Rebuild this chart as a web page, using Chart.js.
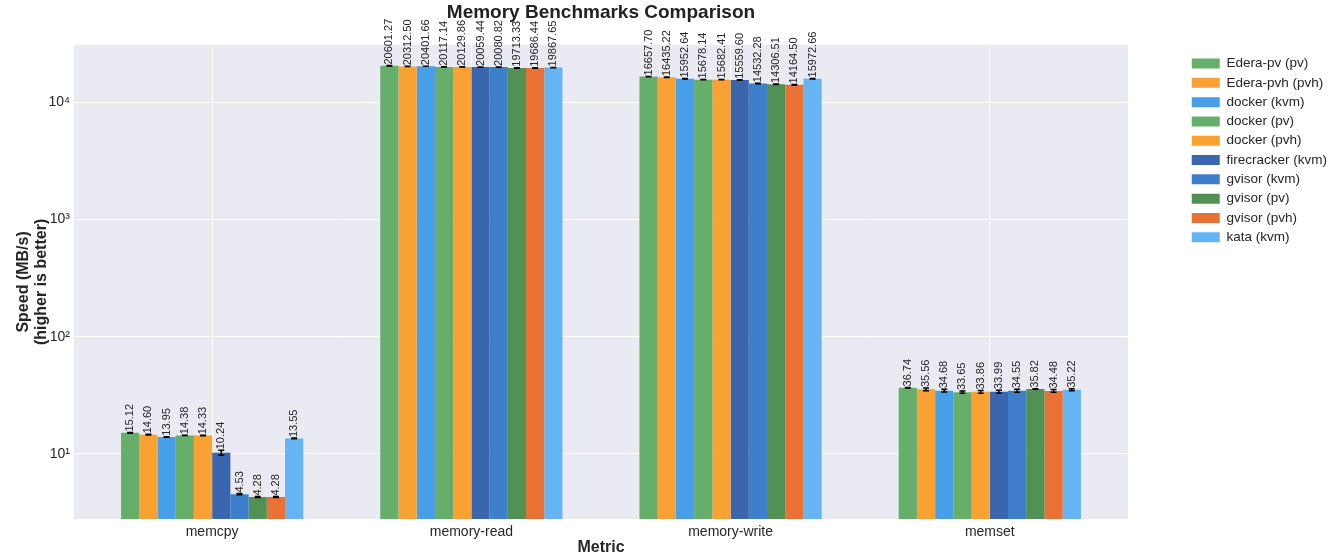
<!DOCTYPE html>
<html>
<head>
<meta charset="utf-8">
<title>Memory Benchmarks Comparison</title>
<script src="https://cdn.jsdelivr.net/npm/chart.js@4.4.1/dist/chart.umd.min.js"></script>
<style>
    html, body { margin: 0; padding: 0; background: #ffffff; }
    #wrap { width: 1340px; height: 558px; position: relative; }
</style>
</head>
<body>
<div id="wrap"><canvas id="mem-chart"></canvas></div>
<script>
// ========================================
// Datos del gráfico
// ========================================

const metrics = ['memcpy', 'memory-read', 'memory-write', 'memset'];

const seriesNames = [
    'Edera-pv (pv)', 'Edera-pvh (pvh)', 'docker (kvm)', 'docker (pv)', 'docker (pvh)',
    'firecracker (kvm)', 'gvisor (kvm)', 'gvisor (pv)', 'gvisor (pvh)', 'kata (kvm)'
];

// valores por serie: memcpy, memory-read, memory-write, memset
const ederaPv     = [15.12, 20601.27, 16657.70, 36.74];
const ederaPvh    = [14.60, 20312.50, 16435.22, 35.56];
const dockerKvm   = [13.95, 20401.66, 15952.64, 34.68];
const dockerPv    = [14.38, 20117.14, 15678.14, 33.65];
const dockerPvh   = [14.33, 20129.86, 15682.41, 33.86];
const firecracker = [10.24, 20059.44, 15559.60, 33.99];
const gvisorKvm   = [4.53, 20080.82, 14532.28, 34.55];
const gvisorPv    = [4.28, 19713.33, 14306.51, 35.82];
const gvisorPvh   = [4.28, 19686.44, 14164.50, 34.48];
const kataKvm     = [13.55, 19867.65, 15972.66, 35.22];

// desviación (barras de error), estimada del gráfico
const errEderaPv     = [0.10, 60, 50, 0.20];
const errEderaPvh    = [0.08, 50, 60, 0.90];
const errDockerKvm   = [0.08, 40, 80, 0.90];
const errDockerPv    = [0.06, 40, 60, 0.70];
const errDockerPvh   = [0.06, 40, 50, 0.90];
const errFirecracker = [0.50, 50, 60, 1.00];
const errGvisorKvm   = [0.05, 40, 80, 1.00];
const errGvisorPv    = [0.04, 120, 60, 0.20];
const errGvisorPvh   = [0.04, 100, 120, 0.90];
const errKataKvm     = [0.10, 60, 70, 0.70];

const yTickValues = [10, 100, 1000, 10000];
const yTickLabels = ['10¹', '10²', '10³', '10⁴'];

const seriesValues = [ederaPv, ederaPvh, dockerKvm, dockerPv, dockerPvh,
    firecracker, gvisorKvm, gvisorPv, gvisorPvh, kataKvm];
const seriesErrors = [errEderaPv, errEderaPvh, errDockerKvm, errDockerPv, errDockerPvh,
    errFirecracker, errGvisorKvm, errGvisorPv, errGvisorPvh, errKataKvm];

// Colores
const seriesColors = [
    '#66AF6A', '#F9A233', '#469FE8', '#66AF6A', '#F9A233',
    '#3A66AE', '#3E7FCB', '#519254', '#E97133', '#65B5F5'
];

const textColor = '#262626';
const fontFamily = "'Liberation Sans', Arial, sans-serif";

Chart.defaults.font.family = fontFamily;
Chart.defaults.color = textColor;

// fondo gris del área de trazado
const plotBackground = {
    id: 'plotBackground',
    beforeDraw(chart) {
        const { ctx, chartArea: a } = chart;
        ctx.save();
        ctx.fillStyle = '#EAEAF2';
        ctx.fillRect(a.left, a.top, a.right - a.left, a.bottom - a.top);
        ctx.restore();
    }
};

// barras de error + etiquetas verticales
const errorBarsAndLabels = {
    id: 'errorBarsAndLabels',
    afterDatasetsDraw(chart) {
        const { ctx } = chart;
        const yScale = chart.scales.y;
        chart.data.datasets.forEach((ds, di) => {
            const meta = chart.getDatasetMeta(di);
            meta.data.forEach((bar, i) => {
                const v = seriesValues[di][i];
                const e = seriesErrors[di][i];
                const yHi = yScale.getPixelForValue(v + e);
                const yLo = yScale.getPixelForValue(v - e);
                ctx.save();
                ctx.strokeStyle = '#000000';
                ctx.lineWidth = 1.5;
                ctx.beginPath();
                ctx.moveTo(bar.x, yLo);
                ctx.lineTo(bar.x, yHi);
                ctx.moveTo(bar.x - 3, yHi);
                ctx.lineTo(bar.x + 3, yHi);
                ctx.moveTo(bar.x - 3, yLo);
                ctx.lineTo(bar.x + 3, yLo);
                ctx.stroke();

                ctx.translate(bar.x, yHi - 1);
                ctx.rotate(-Math.PI / 2);
                ctx.fillStyle = textColor;
                ctx.font = '11px ' + fontFamily;
                ctx.textAlign = 'left';
                ctx.textBaseline = 'middle';
                ctx.fillText(v.toFixed(2), 0, 0);
                ctx.restore();
            });
        });
    }
};

const datasets = seriesNames.map((name, i) => ({
    label: name,
    data: seriesValues[i].map((v, j) => ({ x: j, y: v })),
    backgroundColor: seriesColors[i],
    borderWidth: 0,
    categoryPercentage: 0.703,
    barPercentage: 1.0
}));

new Chart(document.getElementById('mem-chart'), {
    type: 'bar',
    data: { datasets: datasets },
    plugins: [plotBackground, errorBarsAndLabels],
    options: {
        responsive: true,
        maintainAspectRatio: false,
        animation: false,
        layout: { padding: { left: 0, right: 3, top: 0, bottom: 0 } },
        scales: {
            x: {
                type: 'linear',
                min: -0.533,
                max: 3.533,
                offset: false,
                grid: { color: '#FFFFFF', lineWidth: 1, offset: false, drawTicks: false },
                border: { display: false },
                afterBuildTicks(scale) {
                    scale.ticks = metrics.map((m, j) => ({ value: j }));
                },
                ticks: {
                    color: textColor,
                    font: { size: 14 },
                    padding: 5,
                    callback: function(value) {
                        return metrics[value] !== undefined ? metrics[value] : '';
                    }
                },
                title: {
                    display: true,
                    text: 'Metric',
                    color: textColor,
                    font: { size: 16, weight: 'bold' },
                    padding: { top: 0, bottom: 1 }
                },
                afterFit(scale) { scale.height = 39; }
            },
            y: {
                type: 'logarithmic',
                min: 2.78,
                max: 31100,
                grid: { color: '#FFFFFF', lineWidth: 1, drawTicks: false },
                border: { display: false },
                afterBuildTicks(scale) {
                    scale.ticks = yTickValues.map(v => ({ value: v, major: true }));
                },
                ticks: {
                    color: textColor,
                    font: { size: 14 },
                    padding: 4,
                    callback: function(value) {
                        const idx = yTickValues.indexOf(value);
                        return idx >= 0 ? yTickLabels[idx] : '';
                    }
                },
                title: {
                    display: true,
                    text: ['Speed (MB/s)', '(higher is better)'],
                    color: textColor,
                    font: { size: 16, weight: 'bold', lineHeight: 1.15 },
                    padding: { top: 14, bottom: 0 }
                },
                afterFit(scale) { scale.width = 74; }
            },
            gap: {
                type: 'linear',
                position: 'right',
                display: true,
                grid: { display: false },
                border: { display: false },
                ticks: { display: false },
                afterFit(scale) { scale.width = 58; }
            }
        },
        plugins: {
            title: {
                display: true,
                text: 'Memory Benchmarks Comparison',
                color: '#222222',
                fullSize: false,
                font: { size: 19, weight: 'bold' },
                padding: { top: 1, bottom: 21 }
            },
            legend: {
                position: 'right',
                align: 'start',
                fullSize: false,
                title: { display: true, text: ' ', font: { size: 1 }, padding: { top: 0, bottom: 5 } },
                labels: {
                    boxWidth: 28,
                    boxHeight: 10,
                    padding: 5.8,
                    color: textColor,
                    font: { size: 13.5 }
                }
            },
            tooltip: { enabled: false }
        }
    }
});
</script>
</body>
</html>
